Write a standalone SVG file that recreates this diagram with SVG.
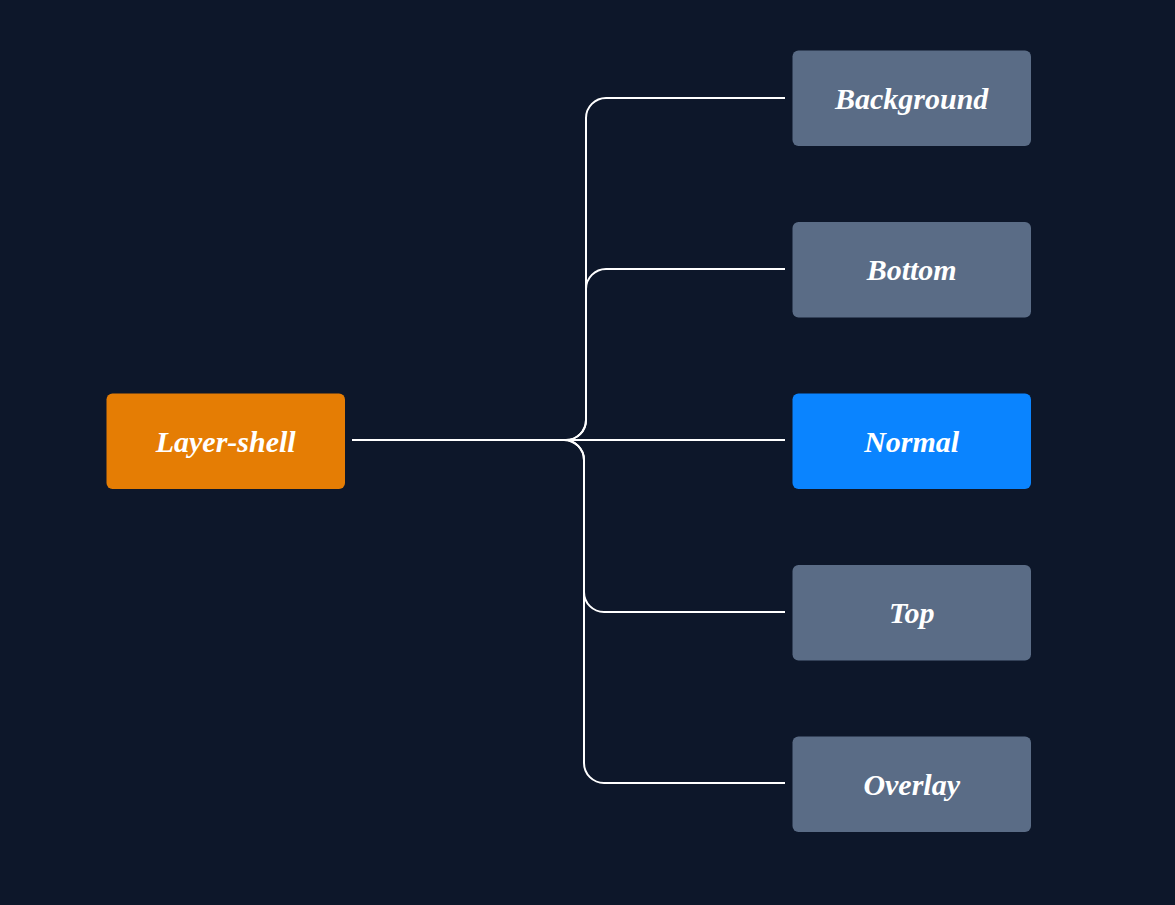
<svg xmlns="http://www.w3.org/2000/svg" width="1175" height="905" viewBox="0 0 1175 905">
<style>
.bg{fill:#0d172a}
.node rect{stroke:none}
.root rect{fill:#e57d04}
.leaf rect{fill:#5a6c86}
.active rect{fill:#0a84ff}
.node text{font-family:"Liberation Serif","Times New Roman",serif;font-weight:bold;font-style:italic;font-size:30px;fill:#ffffff;text-anchor:middle}
.conn path{fill:none;stroke:#ffffff;stroke-width:2}
</style>
<rect class="bg" x="0" y="0" width="1175" height="905"/>
<g id="connectors" class="conn">
<path d="M352,440 H566 A20,20 0 0 0 586,420 V118 A20,20 0 0 1 606,98 H785"/>
<path d="M352,440 H566 A20,20 0 0 0 586,420 V289 A20,20 0 0 1 606,269 H785"/>
<path d="M352,440 H785"/>
<path d="M352,440 H564 A20,20 0 0 1 584,460 V592 A20,20 0 0 0 604,612 H785"/>
<path d="M352,440 H564 A20,20 0 0 1 584,460 V763 A20,20 0 0 0 604,783 H785"/>
</g>
<g id="layer-shell" class="node root">
<rect x="106.5" y="393.5" width="238.5" height="95.5" rx="6"/>
<text x="225.7" y="451.5">Layer-shell</text>
</g>
<g id="background" class="node leaf">
<rect x="792.5" y="50.5" width="238.5" height="95.5" rx="6"/>
<text x="911.7" y="108.5">Background</text>
</g>
<g id="bottom" class="node leaf">
<rect x="792.5" y="222" width="238.5" height="95.5" rx="6"/>
<text x="911.7" y="280">Bottom</text>
</g>
<g id="normal" class="node active">
<rect x="792.5" y="393.5" width="238.5" height="95.5" rx="6"/>
<text x="911.7" y="451.5">Normal</text>
</g>
<g id="top" class="node leaf">
<rect x="792.5" y="565" width="238.5" height="95.5" rx="6"/>
<text x="911.7" y="623">Top</text>
</g>
<g id="overlay" class="node leaf">
<rect x="792.5" y="736.5" width="238.5" height="95.5" rx="6"/>
<text x="911.7" y="794.5">Overlay</text>
</g>
</svg>
